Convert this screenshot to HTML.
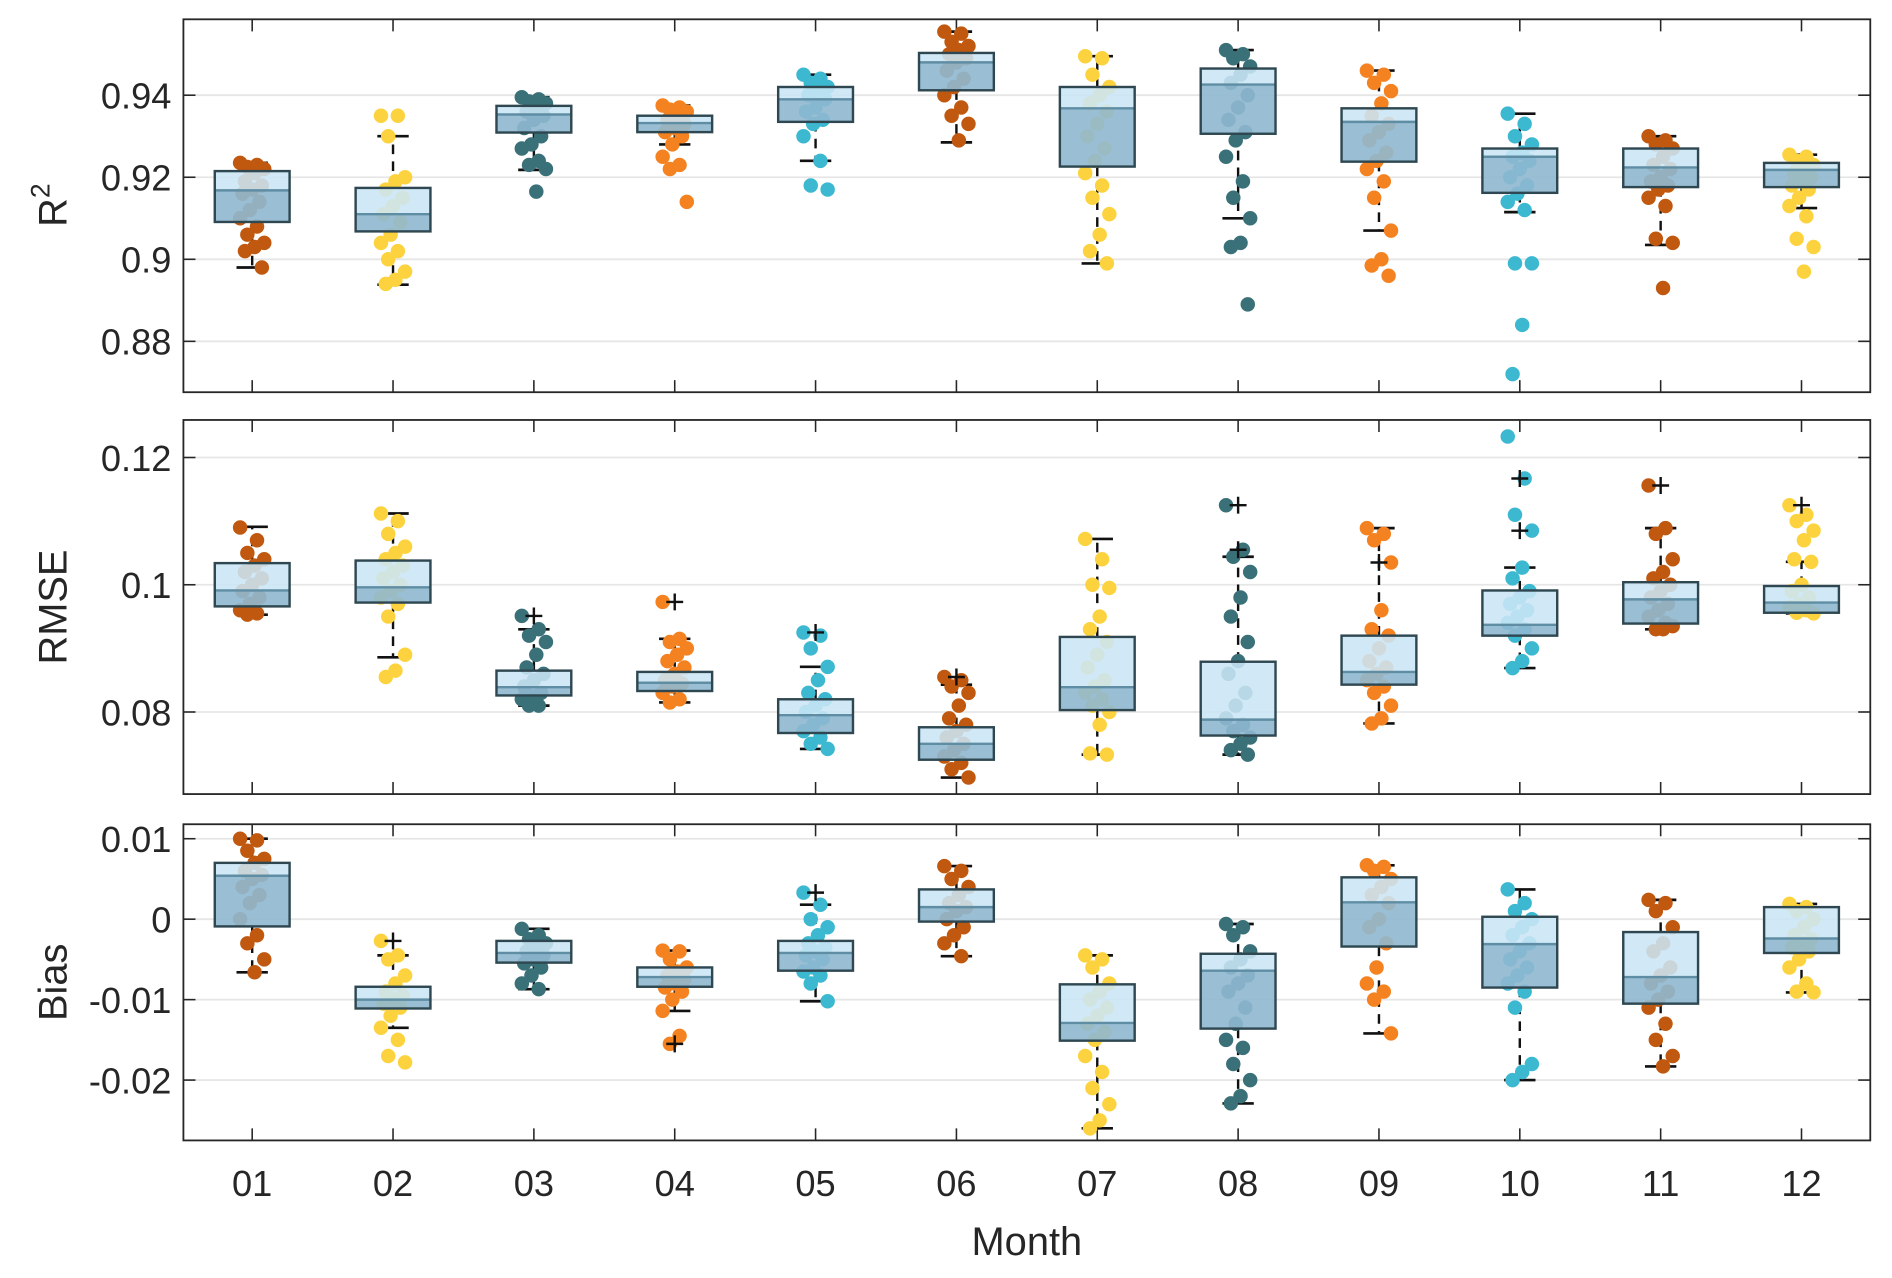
<!DOCTYPE html>
<html><head><meta charset="utf-8"><style>
html,body{margin:0;padding:0;background:#fff}
svg{display:block}
text{font-family:"Liberation Sans",Arial,sans-serif;fill:#262626}
</style></head><body>
<svg id="chart" width="1892" height="1278" viewBox="0 0 1568 1059" preserveAspectRatio="none" xmlns="http://www.w3.org/2000/svg"></svg>
<script>
const months = ["01","02","03","04","05","06","07","08","09","10","11","12"];
const monthColors = ["#c0590f","#fcd33f","#3a7078","#f58220","#3cb8d0","#c0590f","#fcd33f","#3a7078","#f58220","#3cb8d0","#c0590f","#fcd33f"];

// R2 stats: [whiskLow, q1, median, q3, whiskHigh]
const r2Stats = [
 [0.898,0.9091,0.9168,0.9215,0.9235],[0.8938,0.9068,0.911,0.9174,0.930],[0.9218,0.9309,0.9353,0.9374,0.9395],
 [0.928,0.931,0.9332,0.935,0.9375],[0.924,0.9335,0.939,0.942,0.945],[0.9285,0.9412,0.948,0.9503,0.9555],
 [0.899,0.9226,0.9368,0.942,0.9495],[0.910,0.9306,0.9426,0.9465,0.951],[0.907,0.9238,0.9335,0.9368,0.946],
 [0.9115,0.9162,0.925,0.927,0.9355],[0.9035,0.9176,0.9224,0.927,0.930],[0.9125,0.9176,0.9218,0.9235,0.9255]];
const r2Points = [
 [.9235,.923,.9225,.922,.921,.919,.918,.917,.916,.914,.912,.910,.908,.906,.904,.903,.902,.898],
 [.935,.935,.930,.920,.919,.917,.915,.913,.911,.909,.906,.904,.902,.900,.897,.895,.894],
 [.9395,.939,.9385,.938,.937,.936,.935,.934,.932,.930,.928,.927,.924,.923,.922,.9165],
 [.9375,.937,.9365,.936,.935,.934,.933,.932,.931,.930,.928,.925,.923,.922,.914],
 [.945,.944,.943,.942,.941,.940,.939,.937,.936,.934,.933,.930,.924,.918,.917],
 [.9555,.955,.953,.952,.951,.950,.949,.948,.946,.944,.942,.940,.937,.935,.933,.929],
 [.9495,.949,.945,.942,.940,.938,.936,.933,.930,.927,.924,.921,.918,.915,.911,.906,.902,.899],
 [.951,.950,.949,.947,.945,.943,.940,.937,.934,.931,.929,.925,.919,.915,.910,.904,.903,.889],
 [.946,.945,.943,.941,.938,.935,.933,.931,.929,.926,.924,.922,.919,.915,.907,.900,.8985,.896],
 [.9355,.933,.930,.928,.926,.925,.924,.922,.920,.918,.916,.914,.912,.899,.899,.884,.872],
 [.930,.929,.928,.927,.925,.923,.922,.920,.919,.918,.917,.915,.913,.905,.904,.893],
 [.9255,.925,.924,.923,.922,.921,.920,.919,.918,.917,.915,.913,.9105,.905,.903,.897]];
const r2Outliers = [[],[],[],[],[],[],[],[],[],[],[],[]];
const r2Ticks = [0.88,0.9,0.92,0.94];
const r2TickLabels = ["0.88","0.9","0.92","0.94"];

const rmseStats = [
 [0.0953,0.0966,0.0991,0.1034,0.1091],[0.0886,0.0972,0.0996,0.1038,0.1112],[0.0810,0.0826,0.0839,0.0865,0.0930],
 [0.0815,0.0833,0.0846,0.0863,0.0915],[0.0742,0.0767,0.0795,0.0820,0.0871],[0.0697,0.0725,0.0750,0.0776,0.0843],
 [0.0733,0.0803,0.0839,0.0918,0.1072],[0.0733,0.0763,0.0788,0.0879,0.1044],[0.0782,0.0843,0.0863,0.0920,0.1089],
 [0.0869,0.0920,0.0937,0.0991,0.1027],[0.0930,0.0939,0.0977,0.1004,0.1089],[0.0955,0.0956,0.0972,0.0998,0.1036]];
const rmsePoints = [
 [.109,.107,.105,.104,.103,.102,.101,.100,.099,.098,.097,.096,.0955,.0953],
 [.1112,.110,.108,.106,.105,.104,.103,.102,.101,.100,.099,.098,.097,.095,.089,.0865,.0855],
 [.0951,.093,.092,.091,.089,.087,.086,.085,.084,.083,.0825,.082,.081,.081],
 [.0973,.0915,.091,.090,.089,.088,.087,.086,.085,.0845,.084,.083,.082,.0815],
 [.0925,.092,.090,.0871,.085,.083,.082,.081,.080,.079,.078,.077,.076,.075,.0742],
 [.0855,.085,.084,.083,.081,.079,.078,.077,.076,.075,.074,.073,.072,.071,.0697],
 [.1072,.104,.100,.0995,.095,.093,.091,.089,.087,.085,.084,.083,.082,.081,.080,.078,.0735,.0733],
 [.1125,.1055,.1044,.102,.098,.095,.091,.088,.086,.083,.081,.079,.078,.077,.076,.075,.074,.0733],
 [.1089,.108,.107,.1035,.096,.093,.092,.090,.088,.087,.086,.085,.084,.083,.081,.079,.0782],
 [.1233,.1167,.111,.1085,.1027,.101,.099,.098,.097,.096,.095,.094,.093,.092,.090,.088,.0869],
 [.1156,.1089,.108,.104,.102,.101,.100,.099,.098,.097,.096,.095,.094,.093,.0935,.093],
 [.1125,.111,.110,.1085,.107,.104,.1036,.100,.099,.098,.097,.0965,.096,.0956,.0955]];
const rmseOutliers = [[],[],[0.0951],[0.0973],[0.0925],[0.0855],[],[0.1125,0.1055],[0.1035],[0.1167,0.1085],[0.1156],[0.1125]];
const rmseTicks = [0.08,0.1,0.12];
const rmseTickLabels = ["0.08","0.1","0.12"];

const biasStats = [
 [-0.0066,-0.0009,0.0054,0.0070,0.0100],[-0.0135,-0.0111,-0.0100,-0.0084,-0.0045],[-0.0087,-0.0054,-0.0042,-0.0027,-0.0012],
 [-0.0114,-0.0084,-0.0072,-0.0060,-0.0039],[-0.0102,-0.0064,-0.0042,-0.0027,0.0018],[-0.0046,-0.0003,0.0015,0.0037,0.0066],
 [-0.0260,-0.0151,-0.0129,-0.0081,-0.0045],[-0.0229,-0.0136,-0.0064,-0.0043,-0.0006],[-0.0142,-0.0034,0.0021,0.0052,0.0067],
 [-0.0200,-0.0085,-0.0031,0.0003,0.0037],[-0.0183,-0.0105,-0.0072,-0.0016,0.0024],[-0.0091,-0.0042,-0.0024,0.0015,0.0019]];
const biasPoints = [
 [.010,.0098,.0085,.0075,.007,.006,.0055,.005,.004,.003,.002,.000,-.002,-.003,-.005,-.0066],
 [-.0027,-.0045,-.005,-.007,-.008,-.009,-.0095,-.010,-.0105,-.011,-.012,-.0135,-.015,-.017,-.0178],
 [-.0012,-.002,-.0025,-.003,-.0035,-.004,-.0045,-.005,-.0055,-.006,-.007,-.008,-.0087],
 [-.0039,-.004,-.005,-.006,-.0065,-.007,-.0075,-.008,-.0085,-.009,-.010,-.0114,-.0145,-.0155],
 [.0033,.0018,.000,-.001,-.002,-.003,-.0035,-.004,-.0045,-.005,-.006,-.0065,-.007,-.008,-.0102],
 [.0066,.006,.005,.004,.003,.002,.0015,.001,.000,-.001,-.002,-.003,-.0046],
 [-.0045,-.005,-.006,-.008,-.009,-.010,-.011,-.012,-.013,-.014,-.015,-.017,-.019,-.021,-.023,-.025,-.026],
 [-.0006,-.001,-.002,-.004,-.005,-.006,-.007,-.008,-.009,-.011,-.013,-.015,-.016,-.018,-.020,-.022,-.0229],
 [.0067,.0065,.006,.005,.004,.003,.002,.000,-.001,-.003,-.006,-.008,-.009,-.010,-.0142],
 [.0037,.002,.001,.000,-.001,-.002,-.003,-.004,-.005,-.006,-.007,-.008,-.009,-.011,-.018,-.019,-.020],
 [.0024,.002,.001,-.001,-.003,-.004,-.006,-.007,-.008,-.009,-.010,-.011,-.013,-.015,-.017,-.0183],
 [.0019,.0015,.001,.000,-.001,-.002,-.0025,-.003,-.0035,-.004,-.005,-.006,-.008,-.009,-.0091]];
const biasOutliers = [[],[-0.0027],[],[-0.0155],[0.0033],[],[],[],[],[],[],[]];
const biasTicks = [-0.02,-0.01,0,0.01];
const biasTickLabels = ["-0.02","-0.01","0","0.01"];

const NS = "http://www.w3.org/2000/svg";
const svg = document.getElementById("chart");
const L = 152, R = 1550;
function xFor(i){ return 209 + i * (1493 - 209) / 11; }
function mk(tag, attrs, parent){
  const e = document.createElementNS(NS, tag);
  for (const k in attrs) e.setAttribute(k, attrs[k]);
  (parent || svg).appendChild(e);
  return e;
}
const panels = [
 {name:"r2", top:16, bottom:325, min:0.8676, max:0.9585, stats:r2Stats, pts:r2Points, out:r2Outliers, ticks:r2Ticks, labels:r2TickLabels},
 {name:"rmse", top:348, bottom:658, min:0.0671, max:0.1259, stats:rmseStats, pts:rmsePoints, out:rmseOutliers, ticks:rmseTicks, labels:rmseTickLabels},
 {name:"bias", top:683, bottom:945, min:-0.0275, max:0.0118, stats:biasStats, pts:biasPoints, out:biasOutliers, ticks:biasTicks, labels:biasTickLabels}
];
panels.forEach(p => {
  const g = mk("g", {});
  
  
  const y = v => p.bottom - (v - p.min) / (p.max - p.min) * (p.bottom - p.top);
  p.ticks.forEach((t, k) => {
    const gl = mk("line", {x1:L, x2:R, y1:y(t), y2:y(t), stroke:"#e6e6e6", "stroke-width":1.5}, g);
    
    
    mk("line", {x1:L, x2:L+10, y1:y(t), y2:y(t), stroke:"#262626", "stroke-width":1.3}, g);
    mk("line", {x1:R-10, x2:R, y1:y(t), y2:y(t), stroke:"#262626", "stroke-width":1.3}, g);
    const tl = mk("text", {x:L-10, y:y(t)+11, "text-anchor":"end", "font-size":30}, g);
    tl.textContent = p.labels[k];
    
    
  });
  months.forEach((m, i) => {
    const cx = xFor(i);
    mk("line", {x1:cx, x2:cx, y1:p.top, y2:p.top+10, stroke:"#262626", "stroke-width":1.3}, g);
    mk("line", {x1:cx, x2:cx, y1:p.bottom-10, y2:p.bottom, stroke:"#262626", "stroke-width":1.3}, g);
  });
  months.forEach((m, i) => {
    const cx = xFor(i), s = p.stats[i], col = monthColors[i];
    const bg = mk("g", {}, g);
    
    
    const wl = mk("path", {d:`M${cx},${y(s[3])}V${y(s[4])}M${cx},${y(s[1])}V${y(s[0])}`, stroke:"#111", "stroke-width":2, "stroke-dasharray":"8,6", fill:"none"}, bg);
    
    
    mk("path", {d:`M${cx-13},${y(s[4])}H${cx+13}M${cx-13},${y(s[0])}H${cx+13}`, stroke:"#111", "stroke-width":2.2}, bg);
    p.pts[i].forEach((v, j) => {
      const dx = (((j * 7) % 11) - 5) * 2.0;
      const c = mk("circle", {cx:cx+dx, cy:y(v), r:6, fill:col}, bg);
      
      
    });
    const bw = 31;
    const lo = mk("rect", {x:cx-bw, y:y(s[2]), width:2*bw, height:y(s[1])-y(s[2]), fill:"#8fb8d0", "fill-opacity":0.9}, bg);
    
    
    const hi = mk("rect", {x:cx-bw, y:y(s[3]), width:2*bw, height:y(s[2])-y(s[3]), fill:"#cbe6f6", "fill-opacity":0.88}, bg);
    
    
    mk("line", {x1:cx-bw, x2:cx+bw, y1:y(s[2]), y2:y(s[2]), stroke:"#5f8da3", "stroke-width":2}, bg);
    mk("rect", {x:cx-bw, y:y(s[3]), width:2*bw, height:y(s[1])-y(s[3]), fill:"none", stroke:"#2e4750", "stroke-width":2}, bg);
    p.out[i].forEach(v => {
      const o = mk("path", {d:`M${cx-7},${y(v)}H${cx+7}M${cx},${y(v)-7}V${y(v)+7}`, stroke:"#111", "stroke-width":2}, bg);
      
      
    });
  });
  const fr = mk("rect", {x:L, y:p.top, width:R-L, height:p.bottom-p.top, fill:"none", stroke:"#262626", "stroke-width":1.5}, g);
  
  
});
months.forEach((m, i) => {
  const t = mk("text", {x:xFor(i), y:991, "text-anchor":"middle", "font-size":30});
  t.textContent = m;
  
  
});
const xt = mk("text", {x:851, y:1040, "text-anchor":"middle", "font-size":33});
xt.textContent = "Month";


function ytitle(txt, cy, name){
  const t = mk("text", {x:0, y:0, "text-anchor":"middle", "font-size":33, transform:`translate(55,${cy}) rotate(-90)`});
  
  
  return t;
}
const r2t = ytitle("", 170, 'r2-axis-title');
r2t.innerHTML = 'R<tspan dy="-14" font-size="22">2</tspan>';
ytitle("", 503, 'rmse-axis-title').textContent = "RMSE";
ytitle("", 814, 'bias-axis-title').textContent = "Bias";
</script>
</body></html>
